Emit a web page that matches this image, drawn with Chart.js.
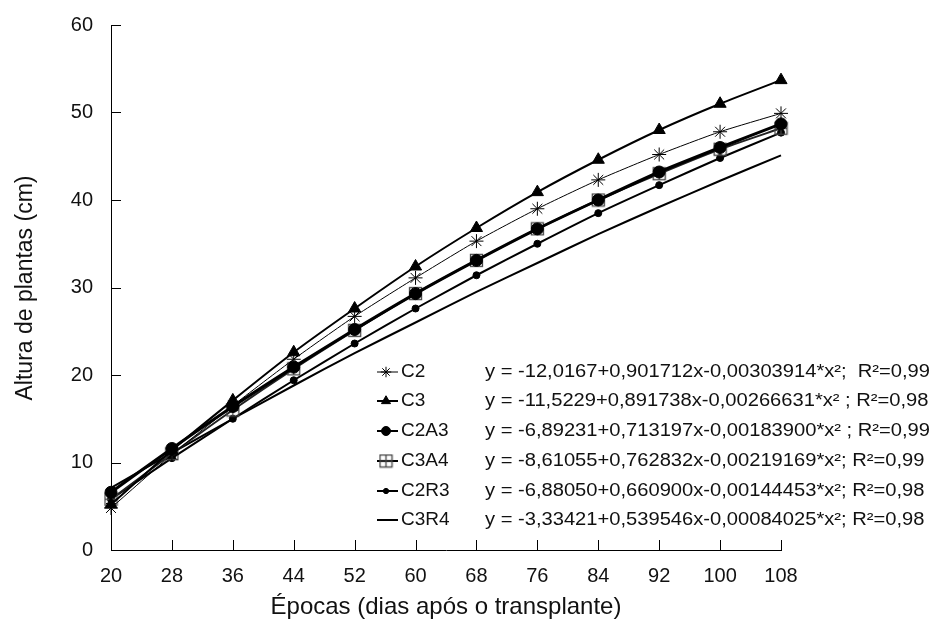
<!DOCTYPE html>
<html>
<head>
<meta charset="utf-8">
<script src="https://cdn.jsdelivr.net/npm/chart.js@4.4.0/dist/chart.umd.min.js"></script>
<style>
  html, body { margin: 0; padding: 0; background: #fff; }
</style>
</head>
<body>
<canvas id="chart" width="941" height="628"></canvas>
<script>
// data
const epocas = [20, 28, 36, 44, 52, 60, 68, 76, 84, 92, 100, 108];
const c2   = [4.8, 10.9, 16.5, 21.8, 26.7, 31.1, 35.3, 39.0, 42.3, 45.2, 47.8, 49.9];
const c3   = [5.2, 11.4, 17.1, 22.6, 27.6, 32.4, 36.8, 40.9, 44.6, 48.0, 51.0, 53.7];
const c2a3 = [6.6, 11.6, 16.4, 20.9, 25.2, 29.3, 33.1, 36.7, 40.0, 43.2, 46.0, 48.7];
const c3a4 = [5.8, 11.0, 16.0, 20.7, 25.1, 29.3, 33.1, 36.7, 40.0, 43.0, 45.8, 48.2];
const c2r3 = [5.8, 10.5, 15.0, 19.4, 23.6, 27.6, 31.4, 35.0, 38.5, 41.7, 44.8, 47.7];
const c3r4 = [7.1, 11.1, 15.0, 18.8, 22.5, 26.0, 29.5, 32.8, 36.1, 39.2, 42.2, 45.1];

const seriesNames = ["C2", "C3", "C2A3", "C3A4", "C2R3", "C3R4"];
const equations = [
  "y = -12,0167+0,901712x-0,00303914*x\u00b2;  R\u00b2=0,99",
  "y = -11,5229+0,891738x-0,00266631*x\u00b2 ; R\u00b2=0,98",
  "y = -6,89231+0,713197x-0,00183900*x\u00b2 ; R\u00b2=0,99",
  "y = -8,61055+0,762832x-0,00219169*x\u00b2; R\u00b2=0,99",
  "y = -6,88050+0,660900x-0,00144453*x\u00b2; R\u00b2=0,98",
  "y = -3,33421+0,539546x-0,00084025*x\u00b2; R\u00b2=0,98"
];
const xTicks = [20, 28, 36, 44, 52, 60, 68, 76, 84, 92, 100, 108];
const yTicks = [0, 10, 20, 30, 40, 50, 60];

const FONT = "'Liberation Sans', Arial, sans-serif";

// square with a cross for C3A4
const sq = document.createElement("canvas");
sq.width = 15; sq.height = 15;
(function () {
  const g = sq.getContext("2d");
  g.strokeStyle = "#444";
  g.lineWidth = 1.3;
  g.strokeRect(1.5, 1.5, 12, 12);
  g.beginPath();
  g.moveTo(1.5, 7.5); g.lineTo(13.5, 7.5);
  g.moveTo(7.5, 1.5); g.lineTo(7.5, 13.5);
  g.stroke();
})();

const toPts = arr => arr.map((v, i) => ({ x: epocas[i], y: v }));

const styles = [
  { pointStyle: "star", radius: 7, borderWidth: 1, lw: 1, bg: "#000" },
  { pointStyle: "triangle", radius: 7, borderWidth: 1, lw: 2, bg: "#000" },
  { pointStyle: "circle", radius: 6, borderWidth: 1, lw: 3, bg: "#000" },
  { pointStyle: sq, radius: 7, borderWidth: 1, lw: 2, bg: "transparent" },
  { pointStyle: "circle", radius: 3.5, borderWidth: 1, lw: 2, bg: "#000" },
  { pointStyle: "circle", radius: 0, borderWidth: 0, lw: 2, bg: "#000" }
];
const allData = [c2, c3, c2a3, c3a4, c2r3, c3r4];

const datasets = allData.map((d, i) => ({
  label: seriesNames[i],
  data: toPts(d),
  borderColor: i === 3 ? "#222" : "#000",
  backgroundColor: styles[i].bg,
  borderWidth: styles[i].lw,
  pointStyle: styles[i].pointStyle,
  pointRadius: styles[i].radius,
  pointBorderWidth: styles[i].borderWidth,
  pointBorderColor: "#000",
  pointBackgroundColor: styles[i].bg,
  tension: 0.2,
  clip: false
}));

// inner tick marks, axis titles and the equation legend
const decor = {
  id: "decor",
  afterDraw(chart) {
    const ctx = chart.ctx;
    const xs = chart.scales.x, ys = chart.scales.y;
    const a = chart.chartArea;
    ctx.save();
    ctx.strokeStyle = "#000";
    ctx.lineWidth = 1;
    ctx.beginPath();
    xTicks.forEach(v => {
      const px = Math.round(xs.getPixelForValue(v)) + 0.5;
      ctx.moveTo(px, a.bottom); ctx.lineTo(px, a.bottom - 10);
    });
    yTicks.forEach(v => {
      const py = Math.round(ys.getPixelForValue(v)) + 0.5;
      ctx.moveTo(a.left, py); ctx.lineTo(a.left + 10, py);
    });
    ctx.stroke();

    // axis titles
    ctx.fillStyle = "#111";
    ctx.font = "24px " + FONT;
    ctx.textAlign = "center";
    ctx.textBaseline = "middle";
    ctx.fillText("\u00c9pocas (dias ap\u00f3s o transplante)", 446, 607);
    ctx.save();
    ctx.translate(26, 288);
    ctx.rotate(-Math.PI / 2);
    ctx.font = "23px " + FONT;
    ctx.fillText("Altura de plantas (cm)", 0, 0);
    ctx.restore();

    // legend
    const rowY = [372, 401, 431, 461, 491, 520];
    ctx.textAlign = "left";
    ctx.font = "18px " + FONT;
    const eqW = ctx.measureText(equations[0]).width;
    const sx = 445 / eqW;
    rowY.forEach((y, i) => {
      const st = styles[i];
      ctx.strokeStyle = "#000";
      ctx.lineWidth = Math.min(st.lw, 2);
      ctx.beginPath();
      ctx.moveTo(377, y); ctx.lineTo(398, y);
      ctx.stroke();
      if (st.radius > 0) {
        ctx.fillStyle = st.bg;
        ctx.strokeStyle = "#000";
        ctx.lineWidth = st.borderWidth;
        Chart.helpers.drawPoint(ctx, {
          pointStyle: st.pointStyle, rotation: 0,
          radius: st.radius * 0.75, borderWidth: st.borderWidth
        }, 386, y);
      }
      ctx.fillStyle = "#111";
      ctx.font = "19px " + FONT;
      ctx.fillText(seriesNames[i], 401, y);
      ctx.font = "18px " + FONT;
      ctx.save();
      ctx.translate(485, y);
      ctx.scale(sx, 1);
      ctx.fillText(equations[i], 0, 0);
      ctx.restore();
    });
    ctx.restore();
  }
};

new Chart(document.getElementById("chart"), {
  type: "line",
  data: { datasets },
  options: {
    responsive: false,
    animation: false,
    layout: { padding: { left: 0, top: 10, right: 160, bottom: 0 } },
    plugins: { legend: { display: false }, tooltip: { enabled: false } },
    scales: {
      x: {
        type: "linear",
        min: 20, max: 108,
        afterFit: s => { s.height = 78; },
        afterBuildTicks: s => { s.ticks = xTicks.map(v => ({ value: v })); },
        ticks: { font: { size: 20, family: FONT }, color: "#111", padding: 14, maxRotation: 0 },
        grid: { display: false, drawTicks: false },
        border: { display: true, color: "#000", width: 1 }
      },
      y: {
        min: 0, max: 60,
        afterFit: s => { s.width = 111; },
        afterBuildTicks: s => { s.ticks = yTicks.map(v => ({ value: v })); },
        ticks: { font: { size: 20, family: FONT, lineHeight: 0.7 }, color: "#111", padding: 18 },
        grid: { display: false, drawTicks: false },
        border: { display: true, color: "#000", width: 1 }
      }
    }
  },
  plugins: [decor]
});
</script>
</body>
</html>
